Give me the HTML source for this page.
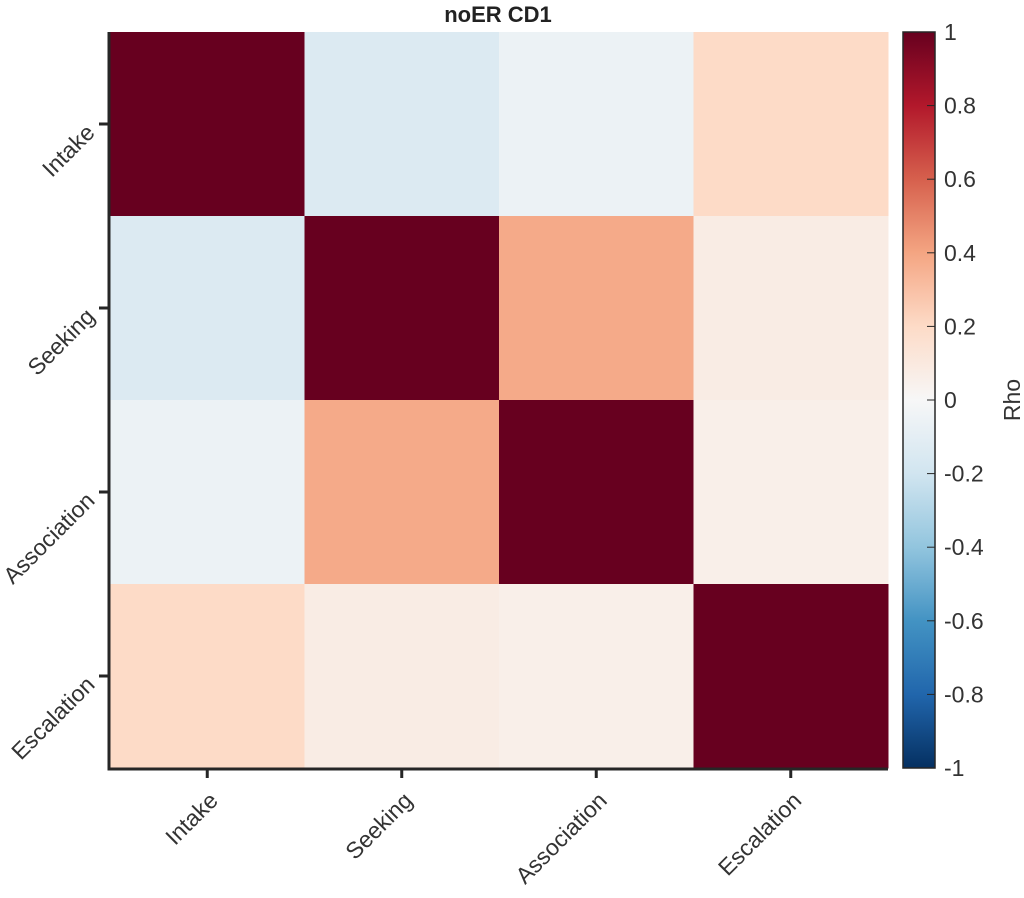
<!DOCTYPE html>
<html><head><meta charset="utf-8"><style>
body{margin:0;background:#fff;}
svg{display:block;font-family:"Liberation Sans",Arial,sans-serif;}
</style></head><body>
<svg id="chart" width="1024" height="898" viewBox="0 0 1024 898">
<text x="498" y="22" text-anchor="middle" font-size="22" font-weight="bold" fill="#222">noER CD1</text>
<g id="cells"></g>
<g id="axes"></g>
<defs><linearGradient id="cbgrad" x1="0" y1="1" x2="0" y2="0"></linearGradient></defs>
<g id="cbar"></g>
<text transform="translate(1020,400) rotate(-90)" text-anchor="middle" font-size="23" fill="#333">Rho</text>
</svg>
<script>
const labels=["Intake","Seeking","Association","Escalation"];
const rhoRow0=[1,-0.14,-0.06,0.2];
const rhoRow1=[-0.14,1,0.38,0.08];
const rhoRow2=[-0.06,0.38,1,0.06];
const rhoRow3=[0.2,0.08,0.06,1];
const matrix=[rhoRow0,rhoRow1,rhoRow2,rhoRow3];
const cbTicks=[1,0.8,0.6,0.4,0.2,0,-0.2,-0.4,-0.6,-0.8,-1];

const NS="http://www.w3.org/2000/svg";
const L=110,R=888,T=32,B=768;
const n=labels.length,cw=(R-L)/n,ch=(B-T)/n;
const xs=i=>L+i*cw, ys=j=>T+j*ch;
const stops=[[5,48,97],[33,102,172],[67,147,195],[146,197,222],[209,229,240],[247,247,247],[253,219,199],[244,165,130],[214,96,77],[178,24,43],[103,0,31]];
function cmap(v){let t=(v+1)/2*(stops.length-1);t=Math.max(0,Math.min(stops.length-1,t));const i=Math.min(stops.length-2,Math.floor(t)),f=t-i;const c=stops[i].map((a,k)=>Math.round(a+(stops[i+1][k]-a)*f));return `rgb(${c})`;}
function mk(tag,attrs,parent){const e=document.createElementNS(NS,tag);for(const k in attrs)e.setAttribute(k,attrs[k]);parent.appendChild(e);return e;}
const cells=document.getElementById('cells');
matrix.forEach((row,j)=>row.forEach((v,i)=>{
 const r=mk('rect',{x:xs(i),y:ys(j),width:cw+0.5,height:ch+0.5,fill:cmap(v)},cells);
 
 
}));
const ax=document.getElementById('axes');
mk('path',{d:`M${L-1},${T} V${B+1} H${R}`,stroke:'#262626','stroke-width':3,fill:'none'},ax);
labels.forEach((lab,i)=>{
 const cx=xs(i)+cw/2;
 mk('line',{x1:cx,y1:B,x2:cx,y2:B+10,stroke:'#262626','stroke-width':3},ax);
 const t=mk('text',{transform:`translate(${cx+12},${B+34}) rotate(-45)`,'text-anchor':'end','font-size':23,fill:'#333'},ax);
 t.textContent=lab;
 
 
 const cy=ys(i)+ch/2;
 mk('line',{x1:L-11,y1:cy,x2:L,y2:cy,stroke:'#262626','stroke-width':3},ax);
 const t2=mk('text',{transform:`translate(${L-14},${cy+10}) rotate(-45)`,'text-anchor':'end','font-size':23,fill:'#333'},ax);
 t2.textContent=lab;
 
 
});
const g=document.querySelector('linearGradient');
for(let k=0;k<=20;k++){mk('stop',{offset:(k/20),'stop-color':cmap(-1+2*k/20)},g);}
const cb=document.getElementById('cbar');
const CL=903,CR=935;
const cbr=mk('rect',{x:CL,y:T,width:CR-CL,height:B-T,fill:'url(#cbgrad)',stroke:'#262626','stroke-width':1.5},cb);


const cy=v=>B-(v+1)/2*(B-T);
cbTicks.forEach(v=>{
 mk('line',{x1:CR-8,y1:cy(v),x2:CR,y2:cy(v),stroke:'#262626','stroke-width':1},cb);
 const t=mk('text',{x:944,y:cy(v)+8,'font-size':23,fill:'#333'},cb);
 t.textContent=String(v);
 
 
});
</script>
</body></html>
